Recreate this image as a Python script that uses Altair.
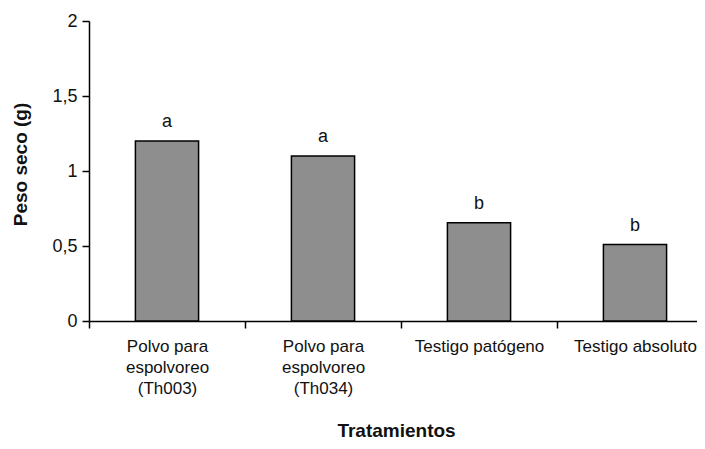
import altair as alt
import pandas as pd

categories = [
    "Polvo para|espolvoreo|(Th003)",
    "Polvo para|espolvoreo|(Th034)",
    "Testigo patógeno",
    "Testigo absoluto",
]
values = [1.2, 1.1, 0.655, 0.51]
letters = ["a", "a", "b", "b"]
y_ticks = [0, 0.5, 1, 1.5, 2]

df = pd.DataFrame({"trat": categories, "peso": values, "letra": letters})

FONT = "Liberation Sans"

x = alt.X(
    "trat:N",
    sort=categories,
    scale=alt.Scale(range=[0, 624], paddingInner=0, paddingOuter=0),
    axis=alt.Axis(
        title="Tratamientos",
        labelExpr="datum.value ? split(datum.value, '|') : ''",
        labelAngle=0,
        tickBand="extent",
        tickSize=7,
        tickWidth=1.5,
        tickColor="black",
        domainColor="black",
        domainWidth=1.5,
        labelPadding=10,
        labelFontSize=17,
        labelLineHeight=21,
        labelFont=FONT,
        labelColor="#111",
        labelLimit=300,
        labelOverlap=False,
        labelFlush=False,
        titleFont=FONT,
        titleFontSize=19,
        titleFontWeight="bold",
        titleColor="#111",
        titleX=307,
        titleY=109,
        titleAlign="center",
        titleBaseline="middle",
    ),
)

y = alt.Y(
    "peso:Q",
    scale=alt.Scale(domain=[0, 2], nice=False),
    axis=alt.Axis(
        title="Peso seco (g)",
        values=y_ticks,
        labelExpr="replace(toString(datum.value), '.', ',')",
        grid=False,
        tickSize=7,
        tickWidth=1.5,
        tickColor="black",
        domainColor="black",
        domainWidth=1.5,
        labelPadding=5,
        labelFontSize=18,
        labelFont=FONT,
        labelColor="#111",
        labelFlush=False,
        titleFont=FONT,
        titleFontSize=19,
        titleFontWeight="bold",
        titleColor="#111",
        titleX=-69,
        titleY=143,
        titleAlign="center",
        titleBaseline="middle",
        titleAngle=270,
    ),
)

bars = alt.Chart(df).mark_bar(
    width=alt.RelativeBandSize(0.405),
    fill="#8e8e8e",
    stroke="black",
    strokeWidth=1.5,
).encode(x=x, y=y)

labels = alt.Chart(df).mark_text(
    dy=-14,
    baseline="alphabetic",
    fontSize=18,
    font=FONT,
    color="#111",
).encode(x=alt.X("trat:N", sort=categories), y="peso:Q", text="letra:N")

chart = (
    alt.layer(bars, labels)
    .properties(
        width=608,
        height=300,
        autosize=alt.AutoSizeParams(type="none"),
        padding={"left": 81, "top": 13, "right": 0, "bottom": 121},
        background="white",
    )
    .configure_view(stroke=None)
)

chart.save("out.html", embed_options={"renderer": "svg", "actions": False})
